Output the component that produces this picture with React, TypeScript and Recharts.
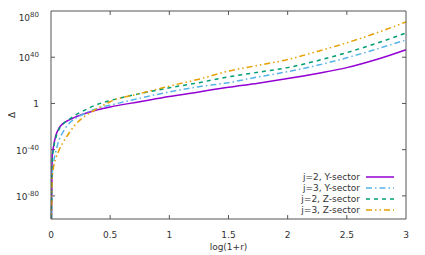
import { LineChart, Line, XAxis, YAxis, Legend, ReferenceLine } from "recharts";

// log(1+r) sample points
const X = [0.002, 0.01, 0.02, 0.04, 0.07, 0.1, 0.15, 0.2, 0.3, 0.4, 0.5, 0.75, 1, 1.25, 1.5, 1.75, 2, 2.25, 2.5, 2.75, 3];

// log10(Delta) for each curve
const Y2 = [-120, -46, -38, -28, -21, -17.5, -14.5, -12, -8.3, -5.3, -3, 1.5, 6, 10, 14, 17.5, 21.5, 26, 31, 38, 46.5];
const Y3 = [-120, -62, -52, -42, -31, -25, -17.5, -13.5, -8, -4, -1.5, 4.5, 10, 14.5, 18, 23, 27.5, 33, 39.5, 47, 55];
const Z2 = [-120, -50, -40, -30, -22, -18, -14, -10.5, -5, -0.5, 2.5, 8.5, 13.5, 18, 23, 27, 31, 37, 44, 52, 61];
const Z3 = [-120, -65, -56, -48, -40, -34, -26, -19, -10, -4, 1.5, 8.5, 15, 21, 28, 33, 38, 45, 52.5, 61, 70.5];

const X_TICKS = [0, 0.5, 1, 1.5, 2, 2.5, 3];
const Y_TICKS = [-80, -40, 0, 40, 80];

const X_MIN = 0;
const X_MAX = 3;
const Y_MIN = -100;
const Y_MAX = 80;
// inward tick length in data units (about 4px each way)
const TICK_DX = 0.034;
const TICK_DY = 3.4;

const SERIES = [
  { key: "y2", name: "j=2, Y-sector", color: "#9400d3", dash: undefined },
  { key: "y3", name: "j=3, Y-sector", color: "#56b4e9", dash: "6 3 1.5 3" },
  { key: "z2", name: "j=2, Z-sector", color: "#009e73", dash: "4 4" },
  { key: "z3", name: "j=3, Z-sector", color: "#e69f00", dash: "6 3 1.5 3 1.5 3" },
];

const data = X.map((x, i) => ({ x, y2: Y2[i], y3: Y3[i], z2: Z2[i], z3: Z3[i] }));

const FONT = "'DejaVu Sans', sans-serif";
const TXT = "#333";
const AX = "#555";

function YTick({ x, y, payload }: any) {
  const v = payload.value;
  if (v === 0) {
    return (
      <text x={x} y={y} dy={3.5} textAnchor="end" fontSize={9} fontFamily={FONT} fill={TXT}>1</text>
    );
  }
  return (
    <text x={x} y={y} dy={4} textAnchor="end" fontSize={9} fontFamily={FONT} fill={TXT}>
      <tspan>10</tspan>
      <tspan dy={-4} fontSize={7}>{v}</tspan>
    </text>
  );
}

function LegendBox() {
  return (
    <svg width={140} height={48}>
      {SERIES.map((s, i) => (
        <g key={s.key}>
          <text x={102} y={6 + i * 11} dy={3} textAnchor="end" fontSize={9} fontFamily={FONT} fill={TXT}>
            {s.name}
          </text>
          <line x1={108} x2={136} y1={6 + i * 11} y2={6 + i * 11} stroke={s.color} strokeWidth={1.5} strokeDasharray={s.dash} />
        </g>
      ))}
    </svg>
  );
}

export default function App() {
  return (
    <LineChart width={417} height={247} data={data} margin={{ top: 0, right: 0, left: 0, bottom: 0 }}>
      <XAxis
        dataKey="x"
        type="number"
        domain={[X_MIN, X_MAX]}
        ticks={X_TICKS}
        tickLine={false}
        tickMargin={7}
        stroke={AX}
        height={36}
        tick={{ fontSize: 9, fontFamily: FONT, fill: TXT }}
        label={{ value: "log(1+r)", position: "insideBottom", offset: 5, fontSize: 9, fontFamily: FONT, fill: TXT }}
      />
      <XAxis
        xAxisId="top"
        orientation="top"
        dataKey="x"
        type="number"
        domain={[X_MIN, X_MAX]}
        tick={false}
        tickLine={false}
        stroke={AX}
        height={3}
      />
      <YAxis
        type="number"
        domain={[Y_MIN, Y_MAX]}
        allowDataOverflow
        ticks={Y_TICKS}
        tickLine={false}
        tickMargin={6}
        width={43}
        stroke={AX}
        tick={<YTick />}
        label={() => (
          <text x={6.5} y={107} transform="rotate(-90 6.5 107)" textAnchor="middle" fontSize={9} fontFamily={FONT} fill={TXT}>
            Δ
          </text>
        )}
      />
      <YAxis
        yAxisId="r"
        orientation="right"
        type="number"
        domain={[Y_MIN, Y_MAX]}
        tick={false}
        tickLine={false}
        width={19}
        stroke={AX}
      />
      {X_TICKS.slice(1, -1).map((t) => (
        <ReferenceLine key={`b${t}`} segment={[{ x: t, y: Y_MIN }, { x: t, y: Y_MIN + TICK_DY }]} stroke={AX} />
      ))}
      {X_TICKS.slice(1, -1).map((t) => (
        <ReferenceLine key={`t${t}`} segment={[{ x: t, y: Y_MAX }, { x: t, y: Y_MAX - TICK_DY }]} stroke={AX} />
      ))}
      {Y_TICKS.slice(0, -1).map((t) => (
        <ReferenceLine key={`l${t}`} segment={[{ x: X_MIN, y: t }, { x: X_MIN + TICK_DX, y: t }]} stroke={AX} />
      ))}
      {Y_TICKS.slice(0, -1).map((t) => (
        <ReferenceLine key={`r${t}`} segment={[{ x: X_MAX, y: t }, { x: X_MAX - TICK_DX, y: t }]} stroke={AX} />
      ))}
      <Legend
        layout="vertical"
        align="center"
        verticalAlign="middle"
        content={() => <LegendBox />}
        wrapperStyle={{ position: "absolute", left: 250, top: 163, width: 140, height: 48 }}
      />
      {SERIES.map((s) => (
        <Line
          key={s.key}
          dataKey={s.key}
          name={s.name}
          type="monotone"
          stroke={s.color}
          strokeWidth={1.5}
          strokeDasharray={s.dash}
          dot={false}
          isAnimationActive={false}
        />
      ))}
    </LineChart>
  );
}
